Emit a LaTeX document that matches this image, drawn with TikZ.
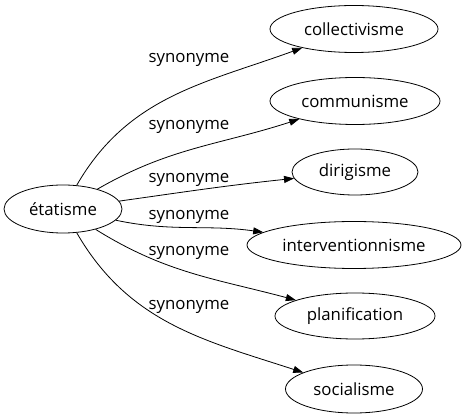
\documentclass[tikz,border=0pt]{standalone}
\usepackage{fontspec}
\setmainfont{Open Sans}
\usetikzlibrary{shapes.geometric,arrows.meta}
\begin{document}
\begin{tikzpicture}[x=1pt,y=1pt,
  word/.style={draw,ellipse,inner sep=0pt,line width=0.8pt,font=\fontsize{16.8}{18}\selectfont},
  lbl/.style={inner sep=0pt,font=\fontsize{16.8}{18}\selectfont},
  syn/.style={-{Triangle[length=10pt,width=7pt]},line width=0.8pt}]
\useasboundingbox (0,0) rectangle (468,-419);
\node[word,minimum width=118pt,minimum height=48pt] (e) at (63,-209) {étatisme};
\node[word,minimum width=168pt,minimum height=47pt] (c1) at (354,-29) {collectivisme};
\node[word,minimum width=170pt,minimum height=47pt] (c2) at (355,-101) {communisme};
\node[word,minimum width=126pt,minimum height=46pt] (c3) at (355,-172) {dirigisme};
\node[word,minimum width=214pt,minimum height=47pt] (c4) at (354,-245) {interventionnisme};
\node[word,minimum width=160pt,minimum height=46pt] (c5) at (355,-316) {planification};
\node[word,minimum width=137pt,minimum height=48pt] (c6) at (354,-389) {socialisme};
\node[lbl] (l1) at (189,-60) {synonyme};
\node[lbl] (l2) at (189,-127) {synonyme};
\node[lbl] (l3) at (189,-180) {synonyme};
\node[lbl] (l4) at (189,-217) {synonyme};
\node[lbl] (l5) at (189,-253) {synonyme};
\node[lbl] (l6) at (189,-307) {synonyme};
\draw[syn] (e) to[out=60,in=200] (c1);
\draw[syn] (e) to[out=30,in=198] (c2);
\draw[syn] (e) to[out=8,in=186] (c3);
\draw[syn] (e) to[out=-12,in=172] (c4);
\draw[syn] (e) to[out=-32,in=165] (c5);
\draw[syn] (e) to[out=-60,in=162] (c6);
\end{tikzpicture}
\end{document}
